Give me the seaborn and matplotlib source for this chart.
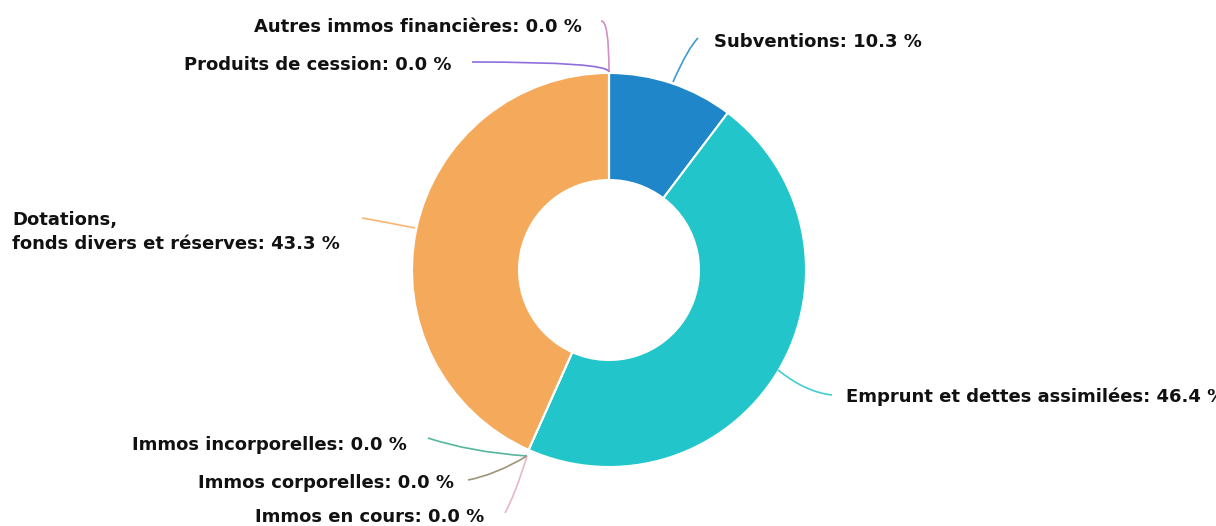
import matplotlib
matplotlib.use("Agg")
import matplotlib.pyplot as plt
import seaborn as sns
from matplotlib.path import Path
from matplotlib.patches import PathPatch

sns.set_theme(style="white")
plt.rcParams['font.family'] = ['DejaVu Sans']

# ---- data ----
categories = ["Subventions", "Emprunt et dettes assimilées", "Immos incorporelles",
              "Immos corporelles", "Immos en cours", "Dotations,\nfonds divers et réserves",
              "Produits de cession", "Autres immos financières"]
values = [10.3, 46.4, 0.0, 0.0, 0.0, 43.3, 0.0, 0.0]
colors = ["#1f87c9", "#22c5c9", "#3aa88c", "#8c8160", "#e3a9bd", "#f5a95a", "#7b55d6", "#c97bb9"]

W, H = 1216, 526
fig = plt.figure(figsize=(W / 100, H / 100), dpi=100)
ax = fig.add_axes([0, 0, 1, 1])

cx, cy, R = 609, H - 270, 197
ax.pie(values, colors=colors, startangle=90, counterclock=False, center=(cx, cy), radius=R,
       wedgeprops=dict(width=107, edgecolor="white", linewidth=1.5))
ax.set_xlim(0, W)
ax.set_ylim(0, H)
ax.set_aspect("equal")
ax.axis("off")

def P(x, y):
    return (x, H - y)

# label layout: (text x, text y, ha, connector points in pixel coords)
layout = [
    (714, 42, "left", [(673, 82), (688, 48), (698, 38)]),
    (846, 397, "left", [(778, 370), (805, 392), (832, 395)]),
    (132, 445, "left", [(527, 456), (470, 452), (428, 438)]),
    (198, 483, "left", [(527, 456), (495, 475), (468, 480)]),
    (255, 517, "left", [(527, 456), (515, 495), (505, 513)]),
    (12, 232, "left", [(415, 228), (385, 222), (362, 218)]),
    (184, 65, "left", [(609, 72), (609, 62), (472, 62)]),
    (254, 27, "left", [(609, 72), (609, 20), (601, 21)]),
]

for cat, val, col, (tx, ty, ha, pts) in zip(categories, values, colors, layout):
    path = Path([P(*p) for p in pts], [Path.MOVETO, Path.CURVE3, Path.CURVE3])
    ax.add_patch(PathPatch(path, facecolor="none", edgecolor=col, lw=1.2, alpha=0.85))
    ax.text(*P(tx, ty), f"{cat}: {val:.1f} %", ha=ha, va="center", fontsize=13,
            fontweight="bold", color="#111111", linespacing=1.45)

fig.savefig("out.png", dpi=100, facecolor="white")
